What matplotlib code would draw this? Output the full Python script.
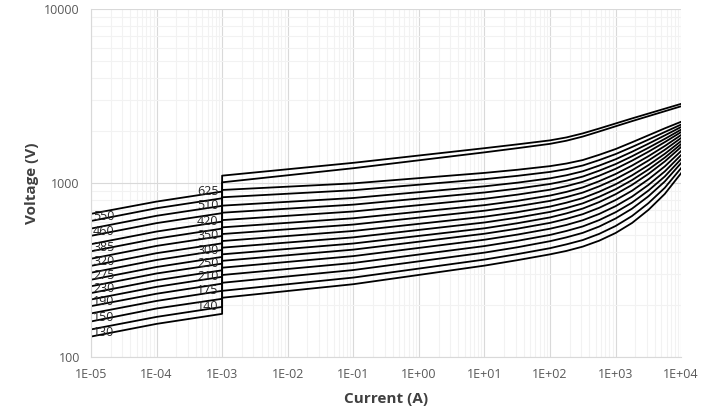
import numpy as np
import matplotlib
matplotlib.use("Agg")
import matplotlib.pyplot as plt
from matplotlib.ticker import LogLocator, FuncFormatter, NullFormatter

plt.rcParams['font.family'] = ['Open Sans', 'DejaVu Sans']

# rated voltages, one curve each (lowest to highest)
ratings = [130, 140, 150, 175, 190, 210, 230, 250, 275,
           300, 320, 350, 385, 420, 460, 510, 550, 625]
# ratings whose label sits at the start of the curve, the rest sit at 1 mA
start_labels = [130, 150, 190, 230, 275, 320, 385, 460, 550]

# leakage region (A)
i_left = [1e-5, 1e-4, 1e-3]
left_v = [
    [131, 155, 177], [144, 170, 194], [160, 190, 216], [178, 210, 240],
    [196, 231, 264], [214, 253, 289], [233, 276, 315], [255, 302, 344],
    [278, 329, 376], [305, 361, 412], [334, 395, 450], [367, 435, 496],
    [405, 479, 547], [445, 526, 600], [497, 588, 671], [547, 648, 739],
    [605, 716, 817], [665, 782, 893],
]

# conduction region (A)
i_right = [1e-3, 1e-1, 1e1, 31.6, 1e2, 178, 316, 562, 1e3, 1780, 3160, 5620, 1e4]
right_v = [
    [219, 262, 335, 360, 389, 407, 431, 466, 516, 589, 700, 865, 1140],
    [240, 286, 363, 390, 422, 444, 470, 510, 566, 646, 765, 938, 1219],
    [267, 316, 398, 427, 463, 487, 517, 562, 625, 712, 838, 1020, 1303],
    [296, 347, 434, 465, 503, 530, 563, 612, 679, 771, 904, 1090, 1374],
    [326, 380, 472, 505, 546, 574, 611, 664, 736, 835, 974, 1165, 1449],
    [357, 414, 511, 546, 590, 622, 662, 720, 798, 903, 1049, 1245, 1528],
    [389, 449, 549, 587, 634, 669, 713, 777, 862, 975, 1127, 1330, 1611],
    [425, 487, 593, 632, 682, 718, 764, 833, 921, 1039, 1195, 1399, 1675],
    [464, 530, 640, 680, 732, 771, 819, 891, 983, 1106, 1266, 1471, 1742],
    [509, 577, 693, 735, 789, 830, 881, 957, 1054, 1183, 1346, 1551, 1816],
    [556, 627, 746, 790, 847, 889, 943, 1024, 1126, 1259, 1425, 1631, 1888],
    [612, 686, 811, 857, 915, 959, 1016, 1101, 1206, 1344, 1512, 1717, 1963],
    [675, 751, 882, 928, 987, 1031, 1089, 1177, 1284, 1424, 1593, 1792, 2028],
    [741, 820, 957, 1004, 1064, 1108, 1168, 1259, 1369, 1512, 1681, 1877, 2099],
    [828, 909, 1052, 1099, 1158, 1201, 1261, 1354, 1466, 1610, 1775, 1963, 2168],
    [912, 995, 1143, 1191, 1250, 1294, 1355, 1452, 1567, 1714, 1879, 2061, 2249],
    [1009, 1216, 1500, 1585, 1679, 1750, 1849, 1977, 2118, 2267, 2421, 2585, 2761],
    [1102, 1306, 1585, 1667, 1758, 1828, 1928, 2056, 2198, 2350, 2506, 2673, 2851],
]

fig = plt.figure(figsize=(7.18, 4.19), dpi=100)
ax = fig.add_axes([0.1267, 0.148, 0.822, 0.8305])

for r, lv, rv in zip(ratings, left_v, right_v):
    ax.plot(i_left + i_right, lv + rv, color='black', lw=1.3, solid_joinstyle='round')
    if r in start_labels:
        ax.annotate(str(r), (i_left[0], lv[0]), xytext=(1.5, 3), textcoords='offset points',
                    ha='left', va='center', fontsize=9, color='#262626')
    else:
        ax.annotate(str(r), (i_left[-1], lv[-1]), xytext=(-2.5, 0), textcoords='offset points',
                    ha='right', va='center', fontsize=9, color='#262626')

ax.set_xscale('log')
ax.set_yscale('log')
ax.set_xlim(1e-5, 1e4)
ax.set_ylim(100, 10000)
ax.xaxis.set_major_locator(LogLocator(base=10, numticks=20))
ax.xaxis.set_minor_locator(LogLocator(base=10, subs=np.arange(2, 10), numticks=100))
ax.yaxis.set_major_locator(LogLocator(base=10, numticks=10))
ax.yaxis.set_minor_locator(LogLocator(base=10, subs=np.arange(2, 10), numticks=100))
ax.xaxis.set_major_formatter(FuncFormatter(lambda v, p: '1E{:+03d}'.format(int(round(np.log10(v))))))
ax.yaxis.set_major_formatter(FuncFormatter(lambda v, p: '{:d}'.format(int(round(v)))))
ax.xaxis.set_minor_formatter(NullFormatter())
ax.yaxis.set_minor_formatter(NullFormatter())

ax.grid(True, which='major', color='#d9d9d9', lw=0.8)
ax.grid(True, which='minor', color='#f2f2f2', lw=0.8)
ax.set_axisbelow(True)
for s in ['top', 'right']:
    ax.spines[s].set_visible(False)
for s in ['left', 'bottom']:
    ax.spines[s].set_color('#d9d9d9')
ax.tick_params(which='both', length=0, labelsize=9, colors='#595959', pad=8)

ax.set_xlabel('Current (A)', fontsize=11, fontweight='bold', color='#404040', labelpad=8)
ax.set_ylabel('Voltage (V)', fontsize=11, fontweight='bold', color='#404040', labelpad=4)

fig.savefig('out.png', dpi=100)
